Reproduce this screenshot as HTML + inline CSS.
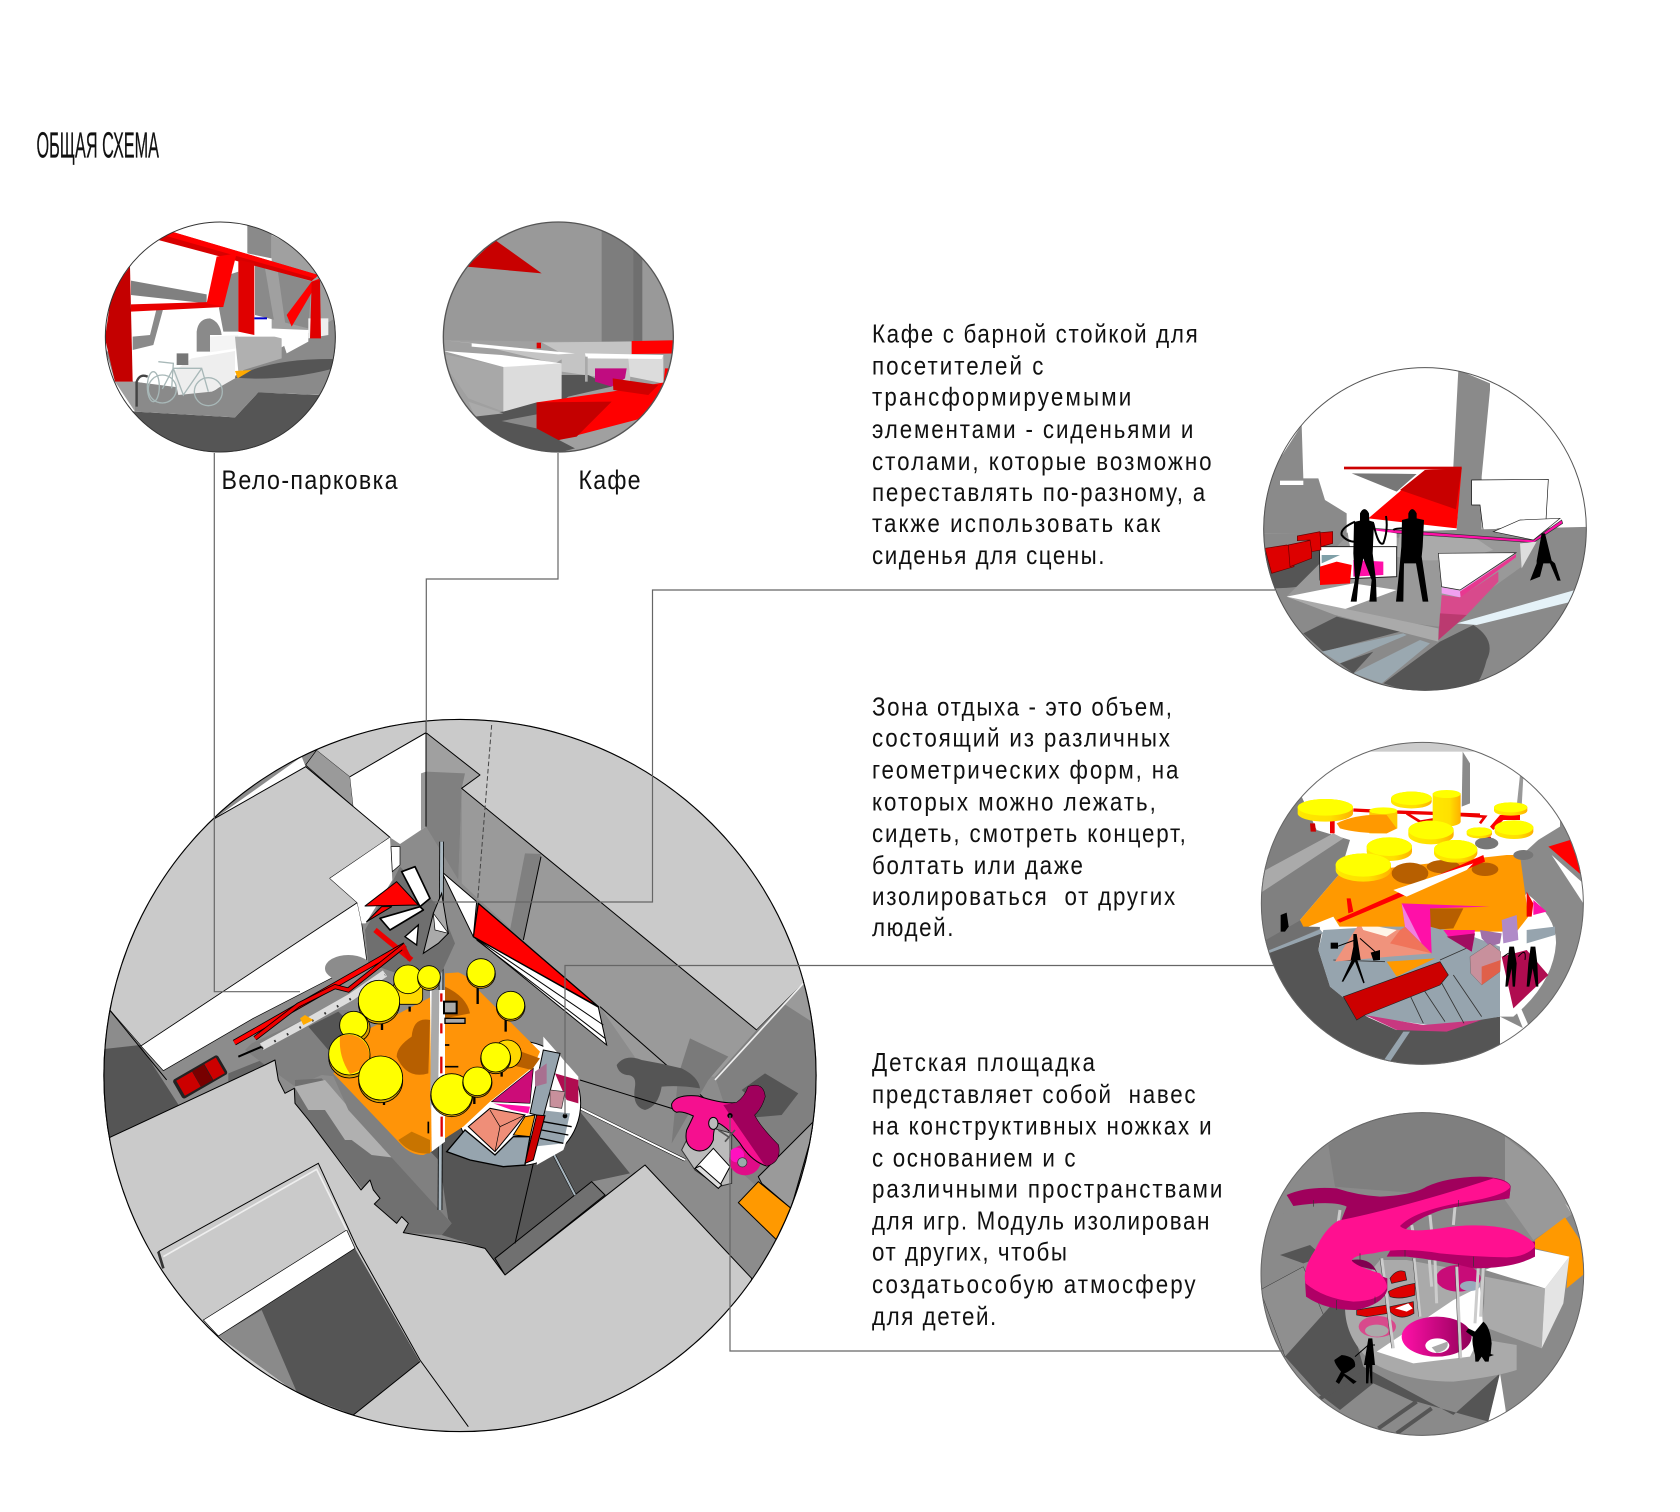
<!DOCTYPE html>
<html lang="ru"><head><meta charset="utf-8"><title>Общая схема</title>
<style>
html,body{margin:0;padding:0;background:#fff}
svg{display:block}
text{font-family:"Liberation Sans",sans-serif;fill:#111;white-space:pre}
.b{font-size:26px}
.k{stroke:#000;stroke-width:3;stroke-linejoin:round}
.t{fill:none;stroke:#000;stroke-width:3}
</style></head><body>
<svg xmlns="http://www.w3.org/2000/svg" width="1680" height="1512" viewBox="0 0 1680 1512">
<defs>
<clipPath id="cm"><circle cx="1095" cy="1096.5" r="1070"/></clipPath>
<clipPath id="c1"><circle cx="376" cy="366" r="346"/></clipPath>
<clipPath id="c2"><circle cx="370" cy="366" r="346"/></clipPath>
<clipPath id="c3"><circle cx="555" cy="537" r="485"/></clipPath>
<clipPath id="c4"><circle cx="547" cy="520" r="484"/></clipPath>
<clipPath id="c5"><circle cx="547" cy="522" r="485"/></clipPath>
<linearGradient id="fn" x1="0" x2="1"><stop offset="0" stop-color="#ff10a8"/><stop offset="1" stop-color="#900058"/></linearGradient>
<linearGradient id="ye" x1="0" x2="1"><stop offset="0" stop-color="#ffe800"/><stop offset=".6" stop-color="#ffe000"/><stop offset="1" stop-color="#ffb000"/></linearGradient>
</defs>
<rect width="1680" height="1512" fill="#fff"/>

<!-- MAIN -->
<g transform="translate(95,710) scale(.33333)">
<g clip-path="url(#cm)">
<rect x="0" y="0" width="2200" height="2200" fill="#8c8c8c"/>
<polygon points="360,325 620,140 632,170" fill="#fff"/>
<polygon points="360,325 632,170 620,185 480,265" fill="#bbb"/>
<polygon points="632,165 665,120 765,200 775,290" fill="#9a9a9a" class="k" style="stroke-width:2"/>
<polygon points="600,0 665,120 765,200 993,68 1200,0" fill="#cacaca"/>
<polygon points="765,200 993,70 993,350 915,402 885,382 775,290" fill="#fff"/>
<polygon points="978,190 993,185 993,350 978,360" fill="#999"/>
<polygon points="993,68 1155,195 1100,235 1090,510 993,350" fill="#a0a0a0"/>
<polygon points="993,185 1110,190 1100,235 1090,510 993,350" fill="#808080"/>
<polyline points="765,200 993,68 993,350" class="t"/>
<!-- top-left roof -->
<polygon points="632,170 885,382 705,505 787,578 138,1008 44,900 0,700 200,300 360,325" fill="#cacaca" stroke="#000" stroke-width="3" stroke-linejoin="round"/>
<!-- right roof + wall -->
<polygon points="1100,235 1985,960 1885,1100 1660,1100 1515,890 1500,890 1100,520" fill="#9a9a9a"/>
<polygon points="1290,430 1338,432 1285,690 1245,660" fill="#808080"/>
<polyline points="1338,440 1285,690" class="t"/>
<polygon points="993,68 1155,195 1100,235 1985,960 2125,820 2300,0 993,-100" fill="#cacaca" stroke="#000" stroke-width="3" stroke-linejoin="round"/>
<line x1="1190" y1="45" x2="1148" y2="570" stroke="#444" stroke-width="3" stroke-dasharray="14 8"/>
<!-- white strip -->
<polygon points="138,1008 787,578 800,640 815,750 475,925 205,1082" fill="#fff" stroke="#000" stroke-width="2"/>
<ellipse cx="760" cy="775" rx="70" ry="40" fill="#8c8c8c"/>
<polygon points="30,1015 135,1005 44,900 0,950" fill="#8c8c8c"/>
<polygon points="0,1020 135,1005 280,1230 45,1282 0,1282" fill="#555"/>
<line x1="44" y1="900" x2="215" y2="1110" stroke="#000" stroke-width="3"/>
<polygon points="400,1090 500,1050 560,1060 520,1100 480,1130 400,1180" fill="#666"/>
<polygon points="450,1020 470,1000 690,900 760,900 860,1010 960,1160 990,1230 830,1110 680,1095 600,1130 510,1065" fill="#808080"/>
<polygon points="640,950 730,905 830,1000 760,1060 700,1020" fill="#555"/>
<!-- bottom grounds -->
<polygon points="1030,1150 1455,1205 1605,1390 1490,1415 1230,1695 1170,1615 1040,1575 1070,1540 800,1200" fill="#555"/>
<polygon points="600,1110 680,1105 1070,1540 1040,1575 925,1568 838,1482 600,1180" fill="#707070"/>
<polygon points="598,1130 690,1110 890,1342 830,1335 770,1290 750,1290 690,1200 640,1200" fill="#b0b0b0"/>
<polygon points="680,1020 800,1110 1040,1360 1040,1400 1060,1530 1070,1540 760,1200" fill="#808080"/>
<polygon points="1200,1645 1490,1415 1530,1455 1230,1695" fill="#707070" stroke="#000" stroke-width="3"/>
<polygon points="45,1282 510,1065 540,1050 550,1110 570,1150 598,1135 600,1180 645,1235 798,1440 825,1410 835,1440 855,1465 838,1482 905,1540 920,1520 940,1540 925,1568 1110,1600 1170,1615 1230,1695 1650,1365 1970,1705 1900,2200 1110,2300 0,2300 0,1400" fill="#cacaca" stroke="#000" stroke-width="3" stroke-linejoin="round"/>
<!-- courtyard -->
<polygon points="370,1878 780,1615 975,1955 775,2115 607,2050" fill="#555"/>
<polygon points="370,1878 500,1800 607,2050" fill="#8a8a8a"/>
<polygon points="325,1830 755,1560 780,1615 370,1878" fill="#fff" stroke="#000" stroke-width="2"/>
<polyline points="190,1625 670,1360 785,1610 975,1950 1120,2150" fill="none" stroke="#000" stroke-width="3"/>
<polyline points="205,1640 665,1378 755,1560" fill="none" stroke="#eee" stroke-width="5"/>
<polyline points="190,1625 205,1675" fill="none" stroke="#333" stroke-width="8"/>
<line x1="775" y1="2115" x2="975" y2="1955" stroke="#000" stroke-width="3"/>
<line x1="1515" y1="890" x2="2050" y2="1360" stroke="#000" stroke-width="3"/>
<!-- shadow blob and grey patch -->
<polygon points="1750,1095 1785,985 1900,1040 1840,1110 1730,1300" fill="#7a7a7a"/>
<path d="M1565 1065 Q1590 1030 1640 1050 Q1700 1060 1760 1075 Q1810 1100 1815 1135 Q1750 1125 1700 1130 Q1690 1190 1650 1200 Q1610 1190 1620 1130 Q1625 1095 1595 1095 Q1570 1090 1565 1065Z" fill="#555"/>
<!-- right block -->
<polygon points="1985,960 2125,820 2200,900 2200,1500 2040,1480 1910,1360 1890,1190 1860,1100" fill="#808080"/>
<polygon points="2125,820 2150,935 2065,880" fill="#9a9a9a"/>
<line x1="1860" y1="1110" x2="2125" y2="820" stroke="#eee" stroke-width="5"/>
<polygon points="1940,1140 1985,1180 1945,1225 2060,1215 2110,1150 2010,1090" fill="#555"/>
<polygon points="1990,1400 2160,1230 2145,1295 2088,1495 2000,1420" fill="#9a9a9a" stroke="#000" stroke-width="3"/>
<polygon points="1930,1478 1990,1415 2088,1495 2045,1590" fill="#ff9900" stroke="#000" stroke-width="3" stroke-linejoin="round"/>
<!-- wedge -->
<polygon points="1135,680 1510,892 1535,1005 1160,700" fill="#fff" stroke="#000" stroke-width="3"/>
<line x1="1135" y1="680" x2="1525" y2="945" stroke="#000" stroke-width="3"/>
<line x1="1145" y1="690" x2="1530" y2="985" stroke="#000" stroke-width="3"/>
<polygon points="1150,580 1135,680 1510,890" fill="#f00" stroke="#000" stroke-width="4" stroke-linejoin="round"/>
<polygon points="1040,485 1145,575 1135,680" fill="#fff" stroke="#000" stroke-width="3" stroke-linejoin="round"/>
<!-- post and thin lines -->
<line x1="1040" y1="395" x2="1035" y2="1500" stroke="#000" stroke-width="14"/>
<line x1="1040" y1="395" x2="1035" y2="1500" stroke="#a9b7c0" stroke-width="9"/>
<line x1="1375" y1="1330" x2="1440" y2="1455" stroke="#000" stroke-width="9"/>
<line x1="1375" y1="1330" x2="1440" y2="1455" stroke="#a9b7c0" stroke-width="6"/>
<line x1="1315" y1="1360" x2="1260" y2="1600" stroke="#000" stroke-width="3"/>
<line x1="1455" y1="1110" x2="1810" y2="1220" stroke="#000" stroke-width="3"/>
<line x1="1455" y1="1195" x2="1770" y2="1350" stroke="#000" stroke-width="9"/>
<line x1="1455" y1="1195" x2="1770" y2="1350" stroke="#fff" stroke-width="6"/>
<!-- cluster top -->
<polygon points="810,660 890,520 915,470 1040,600 1080,700 1020,830 820,760" fill="#6f6f6f"/>
<polygon points="705,505 885,382 892,510 812,640 800,640 787,578" fill="#fff"/>
<polygon points="888,410 915,410 915,465 892,485" fill="#fff" stroke="#000" stroke-width="2"/>
<polygon points="1040,550 1060,670 1030,700 985,730 1015,610" fill="#aaa" stroke="#000" stroke-width="3"/>
<polygon points="1015,610 1060,670 1020,660" fill="#fff" stroke="#000" stroke-width="2"/>
<polygon points="920,485 960,470 1005,565 975,590" fill="#fff" stroke="#000" stroke-width="5" stroke-linejoin="round"/>
<polygon points="855,625 975,590 985,600 885,660" fill="#fff" stroke="#000" stroke-width="5" stroke-linejoin="round"/>
<polygon points="810,588 905,515 970,585" fill="#f00" stroke="#000" stroke-width="3" stroke-linejoin="round"/>
<polygon points="815,635 860,590 890,590" fill="#f00" stroke="#000" stroke-width="3" stroke-linejoin="round"/>
<polygon points="930,680 970,645 965,705" fill="#fff" stroke="#000" stroke-width="4"/>
<line x1="840" y1="660" x2="950" y2="750" stroke="#e00" stroke-width="16"/>
<!-- truss -->
<polyline points="500,1010 620,945 770,860 870,790" fill="none" stroke="#ddd" stroke-width="22"/>
<polyline points="500,1015 620,950 770,865 870,795" fill="none" stroke="#333" stroke-width="7" stroke-dasharray="5 38"/>
<line x1="418" y1="998" x2="930" y2="705" stroke="#000" stroke-width="18"/>
<line x1="418" y1="998" x2="930" y2="705" stroke="#f00" stroke-width="13"/>
<polyline points="480,985 610,885 720,830 760,840 930,705" fill="none" stroke="#000" stroke-width="15"/>
<polyline points="480,985 610,885 720,830 760,840 930,705" fill="none" stroke="#e00" stroke-width="10"/>
<polygon points="615,925 630,915 655,930 625,945" fill="#ffaa00"/>
<line x1="430" y1="1040" x2="500" y2="1010" stroke="#000" stroke-width="6"/>
<line x1="925" y1="710" x2="945" y2="750" stroke="#d00" stroke-width="14"/>
<!-- car -->
<g transform="translate(315,1100) rotate(-30)"><rect x="-78" y="-32" width="156" height="66" rx="8" fill="#222"/><rect x="-68" y="-25" width="55" height="52" fill="#c00"/><rect x="-12" y="-26" width="40" height="54" fill="#700"/><rect x="30" y="-26" width="40" height="54" fill="#c00"/></g>
<!-- round platform -->
<g transform="translate(705,420)">
<circle cx="565" cy="760" r="187" fill="#fff" stroke="#000" stroke-width="3"/>
<polygon points="350,905 405,840 495,915 550,860 600,860 585,945 520,950 420,930" fill="#96a4ae" stroke="#000" stroke-width="4"/>
<polygon points="640,560 745,680 745,780 700,900 620,945 640,780" fill="#fff"/>
<polygon points="675,670 745,690 745,760 710,750" fill="#b00c50"/>
<polygon points="630,780 720,790 700,880 610,890" fill="#96a4ae"/>
<path d="M640 815 L725 830 M635 840 L715 855 M630 865 L700 880" stroke="#000" stroke-width="4"/>
<polygon points="640,600 690,610 640,800 600,790" fill="#96a4ae" stroke="#000" stroke-width="3"/>
<polygon points="660,720 705,725 695,775 660,770" fill="#c8909c" stroke="#333" stroke-width="2"/>
<polygon points="615,665 650,640 650,700 615,710" fill="#a87090"/>
<polygon points="415,830 480,775 585,795 495,905" fill="#ef8e78" stroke="#000" stroke-width="3"/>
<polyline points="480,780 510,830 585,795 510,830 495,905" fill="none" stroke="#000" stroke-width="2"/>
<polygon points="485,755 610,655 600,760" fill="#cc0c78" stroke="#000" stroke-width="2"/>
<polygon points="490,760 600,770 595,790 545,780" fill="#ff10a8"/>
<polygon points="550,855 585,800 615,795 600,860" fill="#ff9900" stroke="#000" stroke-width="3"/>
<polygon points="585,940 620,795 645,797 610,930" fill="#cc0000" stroke="#000" stroke-width="3"/>
<circle cx="705" cy="798" r="7" fill="#000"/>
</g>
<!-- orange -->
<g transform="translate(705,420)">
<path d="M305 440 L90 550 L10 670 L210 880 Q240 915 280 915 L305 905 Z" fill="#ff9408"/>
<path d="M345 370 L385 367 Q420 380 445 420 L630 605 L610 650 L480 755 L400 830 L345 865 Z" fill="#ff9408"/>
<path d="M300 510 Q250 500 245 560 Q200 590 200 620 Q230 690 295 670 Z" fill="#b75f00"/>
<path d="M345 410 Q410 440 420 490 L345 505 Z" fill="#b75f00"/>
<path d="M525 640 L560 600 L630 625 L605 660 Z" fill="#b75f00"/>
<path d="M205 870 L245 845 L300 870 L300 910 Q240 915 205 870 Z" fill="#c87400"/>
<polygon points="300,420 345,420 345,875 305,905" fill="#fff"/>
<polygon points="305,420 328,420 325,700 300,780" fill="#aaa"/>
<path d="M334 430 V455 M334 520 V550 M334 620 V670 M335 800 V860" stroke="#d00" stroke-width="7"/>
<rect x="342" y="455" width="38" height="35" fill="#aaa" stroke="#000" stroke-width="6"/>
<rect x="345" y="505" width="60" height="15" fill="#aaa" stroke="#000" stroke-width="4"/>
<path d="M345 650 H385 M345 585 H358 M295 850 V815" stroke="#000" stroke-width="5"/>
</g>
<!-- yellow -->
<g transform="translate(705,420)" stroke="#000" stroke-width="2.5">
<path d="M156 515V540 M239 470V485 M71 560V580 M162 745V765 M443 410V462 M527 505V545 M515 665V680 M433 735V762" stroke-width="7"/>
<rect x="191" y="388" width="87" height="75" rx="20" fill="#ffd800"/>
<circle cx="234" cy="388" r="43" fill="#ff0"/>
<ellipse cx="297" cy="385" rx="34" ry="36" fill="#ffd000"/><circle cx="297" cy="381" r="34" fill="#ff0"/>
<circle cx="147" cy="460" r="62" fill="#d9a000"/><circle cx="147" cy="453" r="62" fill="#ff0"/>
<circle cx="78" cy="533" r="42" fill="#d9a000"/><circle cx="71" cy="526" r="42" fill="#ff0"/>
<circle cx="58" cy="622" r="62" fill="#d9a000"/><circle cx="58" cy="613" r="62" fill="#ff0"/>
<path d="M30 560 A62 62 0 0 1 118 620 Q110 660 60 672 Q25 620 30 560Z" fill="#ff9408" stroke="none"/>
<circle cx="152" cy="692" r="66" fill="#d9a000"/><circle cx="152" cy="684" r="66" fill="#ff0"/>
<circle cx="453" cy="372" r="43" fill="#d9a000"/><circle cx="453" cy="368" r="42" fill="#ff0"/>
<circle cx="542" cy="470" r="43" fill="#d9a000"/><circle cx="542" cy="466" r="42" fill="#ff0"/>
<circle cx="532" cy="612" r="42" fill="#ffd800"/>
<circle cx="497" cy="626" r="45" fill="#d9a000"/><circle cx="497" cy="622" r="44" fill="#ff0"/>
<circle cx="365" cy="737" r="63" fill="#d9a000"/><circle cx="365" cy="733" r="62" fill="#ff0"/>
<circle cx="442" cy="698" r="44" fill="#d9a000"/><circle cx="442" cy="694" r="43" fill="#ff0"/>
</g>
<!-- blob -->
<g transform="translate(1110,1110)">
<polygon points="650,210 690,130 800,160 800,310 760,320 690,270" fill="#bbb" stroke="#333" stroke-width="3"/>
<ellipse cx="840" cy="240" rx="48" ry="46" fill="#e00c88"/>
<ellipse cx="815" cy="225" rx="22" ry="22" fill="#ff10c0"/>
<circle cx="832" cy="247" r="14" fill="#9aa" stroke="#333" stroke-width="2"/>
<polygon points="690,265 745,205 795,260 760,325" fill="#fff" stroke="#000" stroke-width="3"/>
<polygon points="690,265 760,325 770,315 705,258" fill="#ddd" stroke="#000" stroke-width="3"/>
<path d="M620 72 Q632 42 700 48 Q770 72 815 68 Q840 50 850 20 Q895 5 900 50 Q890 85 868 105 Q885 140 940 195 Q950 245 905 258 Q860 245 825 190 Q790 145 762 130 Q745 135 745 180 Q730 218 695 212 Q655 200 665 150 Q680 120 685 108 Q650 92 635 97 Q618 90 620 72Z" fill="#f5108f" stroke="#000" stroke-width="3"/>
<path d="M795 105 L895 250 Q905 258 905 258 Q950 245 940 195 Q885 140 868 105 Q890 85 900 50 Q895 5 850 20 Q840 50 815 68 L775 75Z" fill="#a0005c"/>
<circle cx="795" cy="107" r="8" fill="#000"/>
<ellipse cx="745" cy="130" rx="14" ry="18" fill="#bbb" stroke="#000" stroke-width="3"/>
<path d="M760 150L790 170M780 185L810 150" stroke="#555" stroke-width="5"/>
</g>
<circle cx="1095" cy="1096.5" r="1068.5" fill="none" stroke="#000" stroke-width="4"/>
</g>
</g>

<!-- C1 -->
<g transform="translate(95,215) scale(.33333)">
<g clip-path="url(#c1)">
<rect width="750" height="750" fill="#fff"/>
<polygon points="457,0 530,0 530,130 457,115" fill="#8a8a8a"/>
<polygon points="530,60 740,170 740,340 530,350" fill="#a0a0a0"/>
<polygon points="108,197 335,238 335,265 108,240" fill="#808080"/>
<polygon points="185,280 205,280 175,390 113,405 113,365 165,360" fill="#8a8a8a"/>
<polygon points="400,180 430,170 430,350 385,350 372,280" fill="#8a8a8a"/>
<path d="M305 410 V350 Q310 310 345 310 Q375 320 380 360 L345 360 V410Z" fill="#8a8a8a"/>
<polygon points="480,150 650,200 640,340 480,300" fill="#8a8a8a"/>
<polygon points="510,160 548,165 572,335 540,335" fill="#a0a0a0"/>
<polygon points="30,400 60,500 120,500 340,550 700,520 740,300 560,420 420,500 350,530 115,500" fill="#8a8a8a"/>
<polygon points="60,500 120,500 120,590" fill="#a0a0a0"/>
<polygon points="0,760 0,560 120,590 420,607 490,532 670,540 740,400 740,760" fill="#555"/>
<polygon points="120,590 420,607 490,532 680,540 720,460 740,300 480,440 340,540 120,500" fill="#8a8a8a"/>
<path d="M420 488 Q520 430 720 432 L710 462 Q560 500 420 488Z" fill="#555"/>
<polygon points="345,365 430,360 425,400 345,412" fill="#f4f4f4"/>
<polygon points="420,365 560,365 560,430 430,470" fill="#b0b0b0"/>
<polygon points="520,340 640,345 640,380 575,415 560,370 520,360" fill="#fff"/>
<polygon points="640,310 700,310 700,360 640,370" fill="#eee"/>
<polygon points="290,430 420,408 420,490 350,530 250,540 235,470" fill="#eee"/>
<polygon points="245,415 280,415 280,450 245,450" fill="#777"/>
<polygon points="420,468 470,465 428,490" fill="#ffaa00"/>
<polygon points="105,155 113,500 60,500 30,370 50,230" fill="#c40000"/>
<polygon points="190,75 230,50 670,180 650,198" fill="#d80000"/>
<polygon points="230,50 670,180 660,190 210,62" fill="#f00"/>
<polygon points="108,268 385,260 385,276 108,290" fill="#e80000"/>
<polygon points="365,125 425,115 385,275 335,265" fill="#f00"/>
<polygon points="430,135 478,145 478,360 430,350" fill="#e00000"/>
<polygon points="575,300 650,200 675,190 590,335" fill="#f00"/>
<polygon points="650,200 675,195 678,370 645,370" fill="#e00000"/>
<rect x="478" y="307" width="38" height="6" fill="#00c"/>
<path d="M125 575 V500 Q135 475 158 485" fill="none" stroke="#444" stroke-width="7"/>
<g fill="none" stroke="#a8b8b8" stroke-width="4"><circle cx="340" cy="530" r="42"/><circle cx="202" cy="522" r="42"/><ellipse cx="175" cy="515" rx="18" ry="45"/><path d="M202 522 L235 460 L320 460 L340 530 M235 460 L265 540 L320 460 M190 440 L235 445 L230 520"/></g>
</g>
<circle cx="376" cy="366" r="345" fill="none" stroke="#333" stroke-width="3"/>
</g>

<!-- C2 -->
<g transform="translate(435,215) scale(.33333)">
<g clip-path="url(#c2)">
<rect width="750" height="750" fill="#999"/>
<polygon points="500,0 600,0 600,378 500,380" fill="#7d7d7d"/>
<polygon points="595,100 622,130 622,378 595,378" fill="#6f6f6f"/>
<polygon points="180,75 320,175 95,155" fill="#c80000"/>
<polygon points="0,375 360,380 590,380 760,375 760,760 0,760" fill="#a0a0a0"/>
<polygon points="20,375 360,410 420,415 385,430 360,445 110,385" fill="#c4c4c4"/>
<polygon points="320,382 590,380 590,418 585,500 450,480 380,470 380,415" fill="#c4c4c4"/>
<polygon points="30,418 205,455 205,590 100,550 30,450" fill="#a8a8a8"/>
<polygon points="205,455 380,445 380,560 205,590" fill="#dcdcdc"/>
<polygon points="25,408 205,456 380,445 200,420" fill="#fff"/>
<polygon points="110,385 420,415 370,418 110,395" fill="#fff"/>
<polygon points="380,480 460,480 530,515 400,545 380,560" fill="#555"/>
<polygon points="100,600 205,590 305,562 372,675 420,700 200,760 160,660" fill="#555"/>
<polygon points="200,618 305,598 305,640" fill="#8a8a8a"/>
<polygon points="100,560 205,595 120,605" fill="#aaa"/>
<polygon points="590,378 760,375 760,415 590,417" fill="#f00"/>
<polygon points="450,415 590,420 685,420 685,505 585,485 580,430 450,425" fill="#dcdcdc"/>
<polygon points="450,415 685,420 680,432 455,430" fill="#fff"/>
<rect x="450" y="425" width="8" height="75" fill="#aaa"/>
<rect x="305" y="383" width="13" height="17" fill="#d00"/>
<polygon points="480,460 575,460 570,490 530,515 480,500" fill="#c00c80"/>
<polygon points="305,562 530,530 700,500 650,590 620,610 372,675 305,640" fill="#f00"/>
<polygon points="305,562 530,560 425,665 370,675 305,640" fill="#c40000"/>
<polygon points="533,490 670,510 640,540 535,525" fill="#d00000"/>
<polygon points="690,460 700,460 695,510 685,510" fill="#f00"/>
</g>
<circle cx="370" cy="366" r="345" fill="none" stroke="#555" stroke-width="4"/>
</g>

<!-- C3 -->
<g transform="translate(1240,350) scale(.33333)">
<g clip-path="url(#c3)">
<rect width="1140" height="1080" fill="#fff"/>
<polygon points="185,225 190,385 235,385 255,450 320,490 320,550 60,550 60,400 130,310" fill="#8a8a8a"/>
<rect x="120" y="392" width="70" height="13" fill="#fff"/>
<polygon points="655,60 750,100 750,120 725,380 725,540 650,540 660,390 640,350" fill="#8a8a8a"/>
<polygon points="695,390 925,388 918,510 730,545 720,465 695,465" fill="#fff" stroke="#111" stroke-width="2"/>
<polygon points="60,550 330,548 640,540 1060,530 1060,1040 60,1040" fill="#8a8a8a"/>
<path d="M60 610 L240 590 L240 695 Q180 715 100 715Z" fill="#555"/>
<polygon points="190,850 290,800 480,845 250,905" fill="#555"/>
<path d="M430 1000 L600 875 L700 825 Q770 870 740 930 Q730 970 715 995 L560 1040 Z" fill="#555"/>
<polygon points="245,905 490,850 500,855 300,940" fill="#9aa8b0"/>
<polygon points="340,970 540,870 570,880 425,1000" fill="#9aa8b0"/>
<polygon points="300,940 400,905 340,970" fill="#555"/>
<polygon points="650,820 1005,720 995,755 710,825" fill="#e5f2f8"/>
<polygon points="385,505 555,360 665,355 650,535" fill="#f00"/>
<polygon points="480,420 555,360 665,355 648,478" fill="#c80000"/>
<rect x="312" y="350" width="353" height="8" fill="#c00"/>
<polygon points="335,370 530,372 470,425" fill="#777"/>
<polygon points="320,560 840,570 845,650 595,830 285,790 140,740" fill="#999"/>
<path d="M470 620 Q600 650 760 600 L700 560 L480 545Z" fill="#aaa"/>
<polygon points="140,740 340,700 470,720 280,790" fill="#fff"/>
<polygon points="140,740 595,835 595,875 285,795" fill="#aaa"/>
<polygon points="400,535 880,570 965,510 968,520 880,578 400,545" fill="#ff10a8" stroke="#333" stroke-width="2"/>
<polygon points="760,545 840,510 960,505 880,570" fill="#fff" stroke="#222" stroke-width="2"/>
<polygon points="840,580 890,575 845,655" fill="#ddd"/>
<polygon points="320,530 470,550 470,590 330,590" fill="#fff"/>
<polygon points="238,590 470,590 470,680 240,690" fill="#fff" stroke="#222" stroke-width="3"/>
<polygon points="245,615 300,615 245,640" fill="#7fa0a8"/>
<polygon points="340,630 430,635 430,675 340,680" fill="#ff10a8"/>
<polygon points="240,650 290,635 335,645 330,700 240,705" fill="#f00"/>
<g fill="#dd0000" stroke="#600" stroke-width="2">
<polygon points="75,595 140,585 162,590 162,650 95,670"/>
<polygon points="145,585 215,570 215,625 150,650"/>
<polygon points="172,558 240,545 243,600 215,605 210,570 172,572"/>
<polygon points="240,548 278,545 278,580 243,590"/>
</g>
<polygon points="595,610 828,608 660,720 605,710" fill="#fff" stroke="#222" stroke-width="2"/>
<polygon points="605,712 660,722 828,612 828,622 660,742 605,730" fill="#f0a0f0"/>
<polygon points="660,725 828,612 828,622 662,742" fill="#e83890"/>
<polygon points="605,735 660,742 775,665 775,695 680,795 595,870" fill="#d84a8c"/>
<polygon points="600,790 680,795 595,870" fill="#bb3a70"/>
<g fill="#000">
<path d="M360 490 Q373 465 387 490 L388 512 L402 516 L398 610 L408 690 L410 755 L388 755 L395 690 L370 625 L356 690 L350 755 L332 755 L345 690 L340 610 L342 516 L360 512Z"/>
<path d="M505 490 Q516 465 530 490 L530 505 L552 510 L548 590 L545 620 L565 755 L548 755 L528 640 L492 640 L490 755 L468 755 L478 660 L484 590 L486 510 L505 505Z"/>
<path d="M905 550 L915 550 L935 632 L945 640 L962 692 L952 692 L930 640 L910 640 L900 680 L870 692 L890 640 L890 632Z"/>
</g>
<path d="M345 515 Q300 535 305 555 Q320 575 345 575 M400 520 Q415 590 430 580 Q445 540 438 498 M490 535 Q465 535 460 540" fill="none" stroke="#000" stroke-width="6"/>
</g>
<circle cx="555" cy="537" r="484" fill="none" stroke="#555" stroke-width="3"/>
</g>

<!-- C4 -->
<g transform="translate(1240,730) scale(.33333)">
<g clip-path="url(#c4)">
<rect width="1140" height="1080" fill="#fff"/>
<rect x="300" y="30" width="450" height="35" fill="#ccc"/>
<polygon points="668,65 690,100 690,220 665,230" fill="#8a8a8a"/>
<polygon points="840,135 850,140 845,230 830,230" fill="#999"/>
<polygon points="185,200 230,300 330,330 300,430 180,570 205,595 240,590 235,660 270,770 380,860 430,1040 0,1040 0,400" fill="#808080"/>
<polygon points="40,440 280,310 310,325 60,490" fill="#aaa"/>
<polygon points="60,640 200,560 240,595 90,665" fill="#707070"/>
<polygon points="40,680 240,598 250,610 90,668" fill="#96a4ae"/>
<polygon points="60,680 245,610 235,660 270,770 380,860 480,905 440,1040 150,900" fill="#555"/>
<polygon points="470,900 780,860 780,1040 430,1040" fill="#555"/>
<polygon points="840,380 960,270 1060,260 1060,800 860,900 780,860 780,650" fill="#8a8a8a"/>
<polygon points="825,835 840,828 865,885 850,898" fill="#fff"/>
<polygon points="490,905 510,905 450,995 432,990" fill="#96a4ae"/>
<polygon points="925,350 990,330 1030,440" fill="#f00"/>
<polygon points="935,375 1030,460 1030,520" fill="#fff"/>
<polygon points="870,335 960,270 960,290 870,345" fill="#fff"/>
<polygon points="235,660 250,600 590,580 780,650 780,860 600,890 380,860 270,770" fill="#96a4ae"/>
<path d="M780 600 L860 490 Q950 560 948 640 Q940 760 820 860 L780 860Z" fill="#fff"/>
<polygon points="860,600 945,590 945,615 860,640" fill="#96a4ae"/>
<polygon points="785,680 860,660 925,735 820,835" fill="#b00c50"/>
<polygon points="375,855 550,885 725,870 620,905 470,900" fill="#c83880"/>
<path d="M500 775 L550 880 M545 770 L615 875 M600 750 L672 880 M640 735 L725 860 M435 695 L280 690 M600 690 L690 650" stroke="#333" stroke-width="2.5" fill="none"/>
<polygon points="285,695 355,585 480,600 575,670 450,680" fill="#f0937c"/>
<polygon points="480,600 495,590 575,670 450,640" fill="#f0745a"/>
<polygon points="360,580 470,600 440,620 370,600" fill="#fff5e8"/>
<polygon points="440,695 585,685 470,740" fill="#ff9900"/>
<polygon points="310,800 600,695 625,735 600,765 375,855 350,870" fill="#cc0000" stroke="#222" stroke-width="2"/>
<polygon points="180,570 300,430 800,375 840,375 865,560 830,605 700,605 620,600 570,590 300,590 190,590" fill="#ff9900"/>
<polygon points="205,590 280,560 300,592" fill="#fff"/>
<ellipse cx="510" cy="430" rx="55" ry="32" fill="#b75f00"/>
<ellipse cx="610" cy="410" rx="50" ry="20" fill="#b75f00"/>
<ellipse cx="735" cy="418" rx="40" ry="20" fill="#b75f00"/>
<polygon points="570,535 670,535 640,595 600,598 570,590" fill="#b75f00"/>
<polygon points="290,570 730,375 735,395 300,578" fill="#f00"/>
<polygon points="460,480 700,400 680,420 500,500" fill="#fff"/>
<polygon points="320,505 332,505 340,545 325,550" fill="#f00"/>
<polygon points="485,520 750,530 570,535 575,670 495,590" fill="#ff10a8"/>
<polygon points="485,520 495,590 545,640" fill="#f080e0"/>
<polygon points="610,600 705,600 695,665 625,620" fill="#ff10a8"/>
<polygon points="620,620 705,610 695,665" fill="#a00c60"/>
<polygon points="720,600 785,610 780,640 750,650 725,625" fill="#a070a8"/>
<polygon points="785,570 830,555 835,630 790,640" fill="#b08ac8"/>
<polygon points="690,680 750,640 782,665 780,725 725,765 692,730" fill="#c8909c" stroke="#555" stroke-width="1"/>
<polygon points="725,710 782,690 780,725 725,765" fill="#e0604a"/>
<polygon points="860,485 880,520 875,560 860,560" fill="#e00"/>
<polygon points="880,510 920,545 880,555" fill="#ff10a8"/>
<polyline points="340,240 440,245 720,255" fill="none" stroke="#e00" stroke-width="10"/>
<polyline points="500,250 540,275 660,255 735,260 720,280" fill="none" stroke="#e00" stroke-width="8"/>
<polygon points="750,290 780,255 840,255 840,270 790,270 760,300" fill="#f00"/>
<rect x="735" y="320" width="18" height="25" fill="#e00"/>
<rect x="270" y="270" width="14" height="40" fill="#e00"/>
<polygon points="210,280 225,280 228,305 212,305" fill="#c00"/>
<ellipse cx="740" cy="340" rx="35" ry="18" fill="#777"/><ellipse cx="850" cy="375" rx="30" ry="15" fill="#777"/>
<g fill="url(#ye)">
<path d="M173 232 A83 25 0 0 1 339 232 V250 A83 25 0 0 1 173 250Z"/>
<path d="M453 205 A60 20 0 0 1 575 205 V215 A60 20 0 0 1 453 215Z"/>
<path d="M578 190 H662 V275 A42 14 0 0 1 578 275Z"/>
<path d="M388 245 Q430 225 472 245 V295 L440 310 H388Z" fill="#ffcb00"/>
<path d="M290 280 Q350 250 440 255 L470 295 L440 310 Q350 310 300 295Z" fill="#ff9900"/>
<path d="M505 300 A68 28 0 0 1 641 300 V315 A68 28 0 0 1 505 315Z"/>
<path d="M380 350 A68 28 0 0 1 516 350 V365 A68 28 0 0 1 380 365Z"/>
<path d="M287 405 A83 35 0 0 1 453 405 V420 A83 35 0 0 1 287 420Z"/>
<path d="M582 358 A65 28 0 0 1 712 358 V370 A65 28 0 0 1 582 370Z"/>
<path d="M680 305 A38 13 0 0 1 756 305 V312 A38 13 0 0 1 680 312Z"/>
<path d="M764 293 A58 22 0 0 1 880 293 V305 A58 22 0 0 1 764 305Z"/>
<path d="M762 232 A50 15 0 0 1 862 232 V242 A50 15 0 0 1 762 242Z"/>
</g>
<g fill="#ff0"><ellipse cx="256" cy="232" rx="83" ry="25"/><ellipse cx="515" cy="205" rx="61" ry="20"/><ellipse cx="620" cy="192" rx="42" ry="12"/><ellipse cx="430" cy="242" rx="42" ry="10"/><ellipse cx="573" cy="300" rx="68" ry="28"/><ellipse cx="448" cy="350" rx="68" ry="28"/><ellipse cx="370" cy="405" rx="83" ry="35"/><ellipse cx="647" cy="358" rx="65" ry="28"/><ellipse cx="718" cy="305" rx="38" ry="13"/><ellipse cx="822" cy="293" rx="58" ry="22"/><ellipse cx="812" cy="232" rx="50" ry="15"/></g>
<g fill="#000">
<path d="M340 612 L350 612 L362 690 L332 690 L340 650Z"/>
<path d="M335 690 L305 755 L310 755 L345 695 L370 760 L374 758 L352 690Z"/>
<rect x="272" y="638" width="22" height="18"/><polygon points="392,668 420,660 420,690 400,692"/>
<path d="M808 650 L822 650 L830 700 L825 770 L818 770 L815 715 L803 770 L796 770 L802 700Z"/>
<path d="M872 650 L886 650 L892 700 L895 770 L888 770 L878 715 L868 770 L860 770 L865 700Z"/>
<path d="M122 555 L140 548 L146 590 L135 605 L122 605Z"/>
</g>
<path d="M345 630 L290 650 M360 625 L405 665 M790 680 L805 670 M835 680 Q860 650 855 690" stroke="#000" stroke-width="3" fill="none"/>
</g>
<circle cx="547" cy="520" r="483" fill="none" stroke="#666" stroke-width="3"/>
</g>

<!-- C5 -->
<g transform="translate(1240,1100) scale(.33333)">
<g clip-path="url(#c5)">
<rect width="1140" height="1080" fill="#8a8a8a"/>
<polygon points="265,135 400,0 795,0 795,300 280,260" fill="#7f7f7f"/>
<polygon points="795,110 1040,300 1000,340 880,420 795,300" fill="#999"/>
<polygon points="60,450 265,135 285,260 200,430 120,460" fill="#8a8a8a"/>
<polygon points="120,465 210,435 250,470 190,490" fill="#555"/>
<polygon points="60,570 190,500 265,680 135,770" fill="#8f8f8f" stroke="#333" stroke-width="1.5"/>
<polygon points="975,310 1040,370 1000,350" fill="#ccc"/>
<polygon points="135,770 270,620 320,620 370,800 640,945 780,820 745,965 530,905 300,930 235,880" fill="#555"/>
<polygon points="300,930 400,850 520,905 640,945 745,965 700,1040 400,1040" fill="#8a8a8a"/>
<path d="M415 985 L530 905 M470 1000 L575 925 M240 895 L370 820" stroke="#555" stroke-width="12"/>
<polygon points="745,965 780,820 815,825 795,950" fill="#fff"/>
<polygon points="795,950 815,825 1000,650 1040,600 1040,780 860,960" fill="#8a8a8a"/>
<polygon points="780,820 830,810 830,770 880,745 905,745 800,950" fill="#8a8a8a"/>
<path d="M315 620 Q315 720 400 790 Q500 845 640 845 Q770 830 830 810 V735 L740 720 L720 520 L500 480 L420 480 L320 600Z" fill="#aaa"/>
<path d="M410 755 L640 600 L720 560 L730 690 L690 770 L520 790Z" fill="#fff"/>
<ellipse cx="590" cy="710" rx="105" ry="60" fill="url(#fn)"/>
<ellipse cx="592" cy="737" rx="36" ry="22" fill="#fff"/>
<path d="M575 742 L622 725 Q630 750 590 759Z" fill="#aaa"/>
<ellipse cx="412" cy="680" rx="56" ry="32" fill="#d84a8c"/>
<ellipse cx="410" cy="692" rx="35" ry="18" fill="#aaa"/>
<ellipse cx="655" cy="535" rx="67" ry="40" fill="#c80c78"/>
<ellipse cx="690" cy="558" rx="30" ry="15" fill="#9ab"/>
<path d="M450 535 Q470 505 495 515 L500 540 L455 550Z" fill="#d00" stroke="#222" stroke-width="2"/>
<path d="M445 575 Q470 560 525 550 L525 585 Q480 600 450 590Z" fill="#d00" stroke="#222" stroke-width="2"/>
<path d="M450 620 L520 605 L522 640 Q480 665 450 635Z" fill="#d00" stroke="#222" stroke-width="2"/>
<path d="M465 625 L505 610 L518 625 L500 635Z" fill="#fff"/>
<path d="M350 630 L440 615 L445 640 L380 650 L350 645Z" fill="#d00" stroke="#222" stroke-width="2"/>
<g stroke="#ccc" stroke-width="9"><path d="M425 475L460 745M522 475L540 650M568 480L575 560M585 480L590 610M650 500L662 775M715 500L705 670M730 500L722 650M515 375L520 400M570 345L575 395M645 320L640 375M300 330L295 365"/></g>
<g stroke="#444" stroke-width="1.5"><path d="M420 475L455 745M518 475L536 650M645 500L657 775"/></g>
<polygon points="885,420 975,352 1020,420 1035,520 980,565 985,470 885,445" fill="#ff9900"/>
<polygon points="735,530 915,565 905,745 730,680" fill="#aaa"/>
<polygon points="915,565 988,470 970,610 905,745" fill="#e4e4e4"/>
<polygon points="735,510 885,448 988,470 915,565" fill="#fff"/>
<path d="M140 285 Q200 258 290 265 Q350 285 420 290 Q520 285 560 260 Q620 232 720 230 Q800 232 812 258 L808 295 Q700 310 600 330 Q520 345 480 378 L300 370 L320 320 Q280 300 160 318Z" fill="#a0005c"/>
<path d="M195 540 L198 590 Q260 632 350 630 Q430 612 442 570 V535 L350 500 Z" fill="#b00066"/>
<path d="M335 480 L340 495 L405 510 L415 530 Q400 470 335 480Z" fill="#800050"/>
<path d="M440 470 L500 470 Q600 480 700 505 Q820 505 885 470 V425 L480 400Z" fill="#b00066"/>
<path d="M480 380 L490 395 Q540 345 640 320 Q720 300 808 295 L812 262Q680 290 560 320 Q490 345 480 378Z" fill="#b00066"/>
<path d="M295 362 Q500 320 760 235 Q812 245 810 262 Q790 290 650 310 Q520 335 480 378 Q500 400 600 385 Q720 365 820 390 Q885 420 885 440 Q860 470 800 472 Q700 470 600 460 Q480 440 400 460 Q340 465 335 482 Q350 500 420 520 Q445 550 440 565 Q420 602 340 605 Q250 595 197 550 Q185 510 225 450 Q255 385 295 362Z" fill="#ff1090"/>
<path d="M290 600 V630 M405 590 V610 M655 490 V500 M495 450 V470 M360 460 V480 M700 470 V500 M220 300 V320 M655 300 V320" stroke="#333" stroke-width="2"/>
<g fill="#000">
<path d="M385 715 L397 715 L405 795 L397 795 L397 850 L392 850 L388 800 L385 850 L378 850 L378 795 L372 795Z"/>
<path d="M305 765 Q350 770 345 800 Q320 820 312 820 L350 845 L340 852 L312 828 L297 852 L287 845 L303 815 Q283 790 283 780Z"/>
<path d="M730 665 Q750 680 755 730 L752 762 L762 765 L748 770 L746 785 L735 785 L725 770 L715 785 L706 785 L705 765 Q695 730 698 710 L678 695 L685 685 L705 695Z"/>
</g>
<path d="M345 770 L385 735 L405 735" stroke="#000" stroke-width="3" fill="none"/>
</g>
<circle cx="547" cy="522" r="484" fill="none" stroke="#666" stroke-width="3"/>
</g>

<!-- connectors -->
<g fill="none" stroke="#666" stroke-width="1.2">
<polyline points="214.3,453 214.3,991.7 300,991.7"/>
<polyline points="558,453 558,579 426.3,579 426.3,733"/>
<polyline points="1275,590 652.5,590 652.5,902 428,902"/>
<polyline points="1274,965.5 565,965.5 565,1115"/>
<polyline points="1284,1351 730,1351 730,1115"/>
</g>

<!-- text -->
<text x="36.5" y="157.5" font-size="36" textLength="122.5" lengthAdjust="spacingAndGlyphs" stroke="#111" stroke-width=".3">ОБЩАЯ СХЕМА</text>
<g transform="scale(.86,1)">
<text x="257.6" y="489" font-size="27" textLength="204.7" lengthAdjust="spacing">Вело-парковка</text>
<text x="672.7" y="489" font-size="27" textLength="72.1" lengthAdjust="spacing">Кафе</text>
<g class="b">
<text x="1013.95" y="342.5" textLength="378.7" lengthAdjust="spacing">Кафе с барной стойкой для</text>
<text x="1013.95" y="374.6" textLength="199.3" lengthAdjust="spacing">посетителей с</text>
<text x="1013.95" y="405.7" textLength="301.5" lengthAdjust="spacing">трансформируемыми</text>
<text x="1013.95" y="437.8" textLength="373.7" lengthAdjust="spacing">элементами - сиденьями и</text>
<text x="1013.95" y="470" textLength="394.9" lengthAdjust="spacing">столами, которые возможно</text>
<text x="1013.95" y="501" textLength="387.4" lengthAdjust="spacing">переставлять по-разному, а</text>
<text x="1013.95" y="532.1" textLength="335.1" lengthAdjust="spacing">также использовать как</text>
<text x="1013.95" y="564.2" textLength="270.3" lengthAdjust="spacing">сиденья для сцены.</text>
<text x="1013.95" y="715.3" textLength="348.8" lengthAdjust="spacing">Зона отдыха - это объем,</text>
<text x="1013.95" y="746.4" textLength="346.4" lengthAdjust="spacing">состоящий из различных</text>
<text x="1013.95" y="778.5" textLength="356.3" lengthAdjust="spacing">геометрических форм, на</text>
<text x="1013.95" y="810.7" textLength="330.1" lengthAdjust="spacing">которых можно лежать,</text>
<text x="1013.95" y="841.8" textLength="365" lengthAdjust="spacing">сидеть, смотреть концерт,</text>
<text x="1013.95" y="873.9" textLength="245.3" lengthAdjust="spacing">болтать или даже</text>
<text x="1013.95" y="905" textLength="352.6" lengthAdjust="spacing">изолироваться  от других</text>
<text x="1013.95" y="936.2" textLength="94.7" lengthAdjust="spacing">людей.</text>
<text x="1013.95" y="1071" textLength="259.2" lengthAdjust="spacing">Детская площадка</text>
<text x="1013.95" y="1103.2" textLength="376.3" lengthAdjust="spacing">представляет собой  навес</text>
<text x="1013.95" y="1134.3" textLength="394.9" lengthAdjust="spacing">на конструктивных ножках и</text>
<text x="1013.95" y="1166.4" textLength="236.7" lengthAdjust="spacing">с основанием и с</text>
<text x="1013.95" y="1197.5" textLength="407.4" lengthAdjust="spacing">различными пространствами</text>
<text x="1013.95" y="1229.6" textLength="392.4" lengthAdjust="spacing">для игр. Модуль изолирован</text>
<text x="1013.95" y="1260.7" textLength="226.7" lengthAdjust="spacing">от других, чтобы</text>
<text x="1013.95" y="1292.8" textLength="376.3" lengthAdjust="spacing">создатьособую атмосферу</text>
<text x="1013.95" y="1325" textLength="144.5" lengthAdjust="spacing">для детей.</text>
</g>
</g>
</svg>
</body></html>
